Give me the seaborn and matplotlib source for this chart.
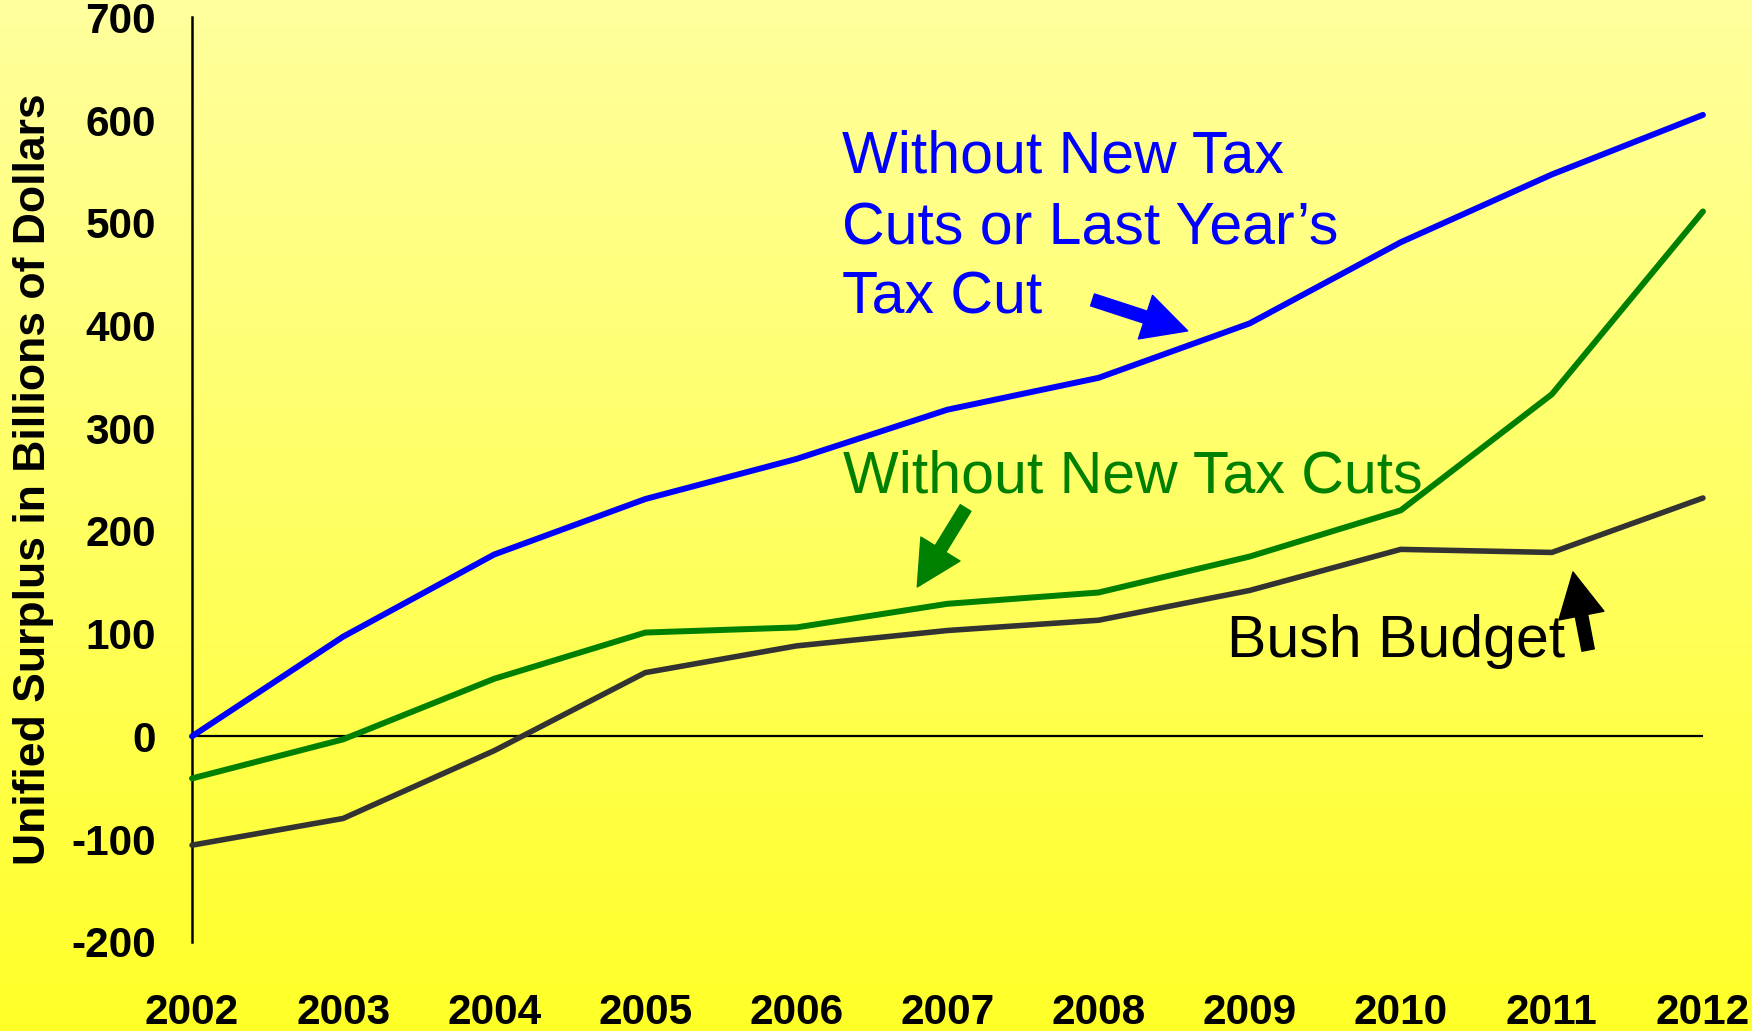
import numpy as np
import pandas as pd
import matplotlib
matplotlib.use("Agg")
import matplotlib.pyplot as plt
import seaborn as sns

# Unified surplus projections, billions of dollars
years = [2002, 2003, 2004, 2005, 2006, 2007, 2008, 2009, 2010, 2011, 2012]
bush_budget = [-106, -80, -14, 62, 88, 103, 113, 142, 182, 179, 232]
without_new_cuts = [-41, -3, 56, 101, 106, 129, 140, 175, 220, 333, 511]
without_new_or_last = [0, 97, 177, 231, 270, 318, 349, 402, 481, 547, 605]
y_ticks = [-200, -100, 0, 100, 200, 300, 400, 500, 600, 700]

sns.set_style("white")
plt.rcParams["font.family"] = ["Liberation Sans", "DejaVu Sans"]
plt.rcParams.update({
    "text.color": "black",
    "axes.labelcolor": "black",
    "xtick.color": "black",
    "ytick.color": "black",
})

W, H, DPI = 1752, 1031, 100
fig = plt.figure(figsize=(W / DPI, H / DPI), dpi=DPI)

# vertical pale-to-bright yellow background
bg = fig.add_axes([0, 0, 1, 1], zorder=-1)
top = np.array([255, 255, 158]) / 255
bot = np.array([255, 255, 40]) / 255
t = np.linspace(0, 1, 256)[:, None]
grad = (top[None, :] * (1 - t) + bot[None, :] * t)[:, None, :]
bg.imshow(grad, aspect="auto", extent=[0, 1, 0, 1])
bg.axis("off")

ax = fig.add_axes([0.1096, 0.0866, 0.8624, 0.8966])
ax.patch.set_alpha(0)

df = pd.DataFrame({
    "year": years * 3,
    "surplus": bush_budget + without_new_cuts + without_new_or_last,
    "scenario": (["Bush Budget"] * len(years)
                 + ["Without New Tax Cuts"] * len(years)
                 + ["Without New Tax Cuts or Last Year's Tax Cut"] * len(years)),
})
palette = {
    "Bush Budget": "#333333",
    "Without New Tax Cuts": "#008000",
    "Without New Tax Cuts or Last Year's Tax Cut": "#0000FF",
}
widths = {
    "Bush Budget": 4.0,
    "Without New Tax Cuts": 4.3,
    "Without New Tax Cuts or Last Year's Tax Cut": 4.3,
}
for name, sub in df.groupby("scenario", sort=False):
    sns.lineplot(data=sub, x="year", y="surplus", color=palette[name],
                 linewidth=widths[name], ax=ax, legend=False,
                 solid_capstyle="round", clip_on=False, zorder=3)

ax.axhline(0, color="black", linewidth=1.6, zorder=2)

ax.set_xlim(2002, 2012)
ax.set_ylim(-200, 700)
ax.set_xticks(years)
ax.set_xticklabels([str(y) for y in years])
ax.set_yticks(y_ticks)
ax.set_yticklabels([str(v) for v in y_ticks])

for s in ["top", "right", "bottom"]:
    ax.spines[s].set_visible(False)
ax.spines["left"].set_linewidth(1.8)
ax.spines["left"].set_color("black")

ax.tick_params(axis="y", length=10, width=1.8, direction="out", pad=16,
               labelsize=30.5, color="black", labelcolor="black")
ax.tick_params(axis="x", length=0, pad=37, labelsize=30.5, labelcolor="black")
for lbl in ax.get_xticklabels() + ax.get_yticklabels():
    lbl.set_fontweight("bold")

ax.set_xlabel("")
ax.set_ylabel("Unified Surplus in Billions of Dollars", fontsize=32,
              fontweight="bold", labelpad=12, color="black")

# scenario labels
FS = 42.5
ax.text(2006.30, 548.5, "Without New Tax", color="#0000FF", fontsize=FS,
        va="baseline", ha="left")
ax.text(2006.30, 479, "Cuts or Last Year\u2019s", color="#0000FF", fontsize=FS,
        va="baseline", ha="left")
ax.text(2006.30, 412, "Tax Cut", color="#0000FF", fontsize=FS,
        va="baseline", ha="left")
ax.text(2006.31, 237, "Without New Tax Cuts", color="#008000", fontsize=FS,
        va="baseline", ha="left")
ax.text(2008.85, 77, "Bush Budget", color="black", fontsize=FS,
        va="baseline", ha="left")

# pointer arrows
def pointer(tail, tip, color):
    ax.annotate("", xy=tip, xytext=tail,
                arrowprops=dict(arrowstyle="simple,head_length=1.6,head_width=1.65,tail_width=0.45",
                                mutation_scale=20, color=color,
                                shrinkA=0, shrinkB=0),
                zorder=4, annotation_clip=False)

pointer((2007.96, 424.9), (2008.59, 394.7), "#0000FF")
pointer((2007.12, 222.3), (2006.80, 145.4), "#008000")
pointer((2011.24, 84.0), (2011.14, 160.0), "black")

fig.savefig("out.png", dpi=DPI)
